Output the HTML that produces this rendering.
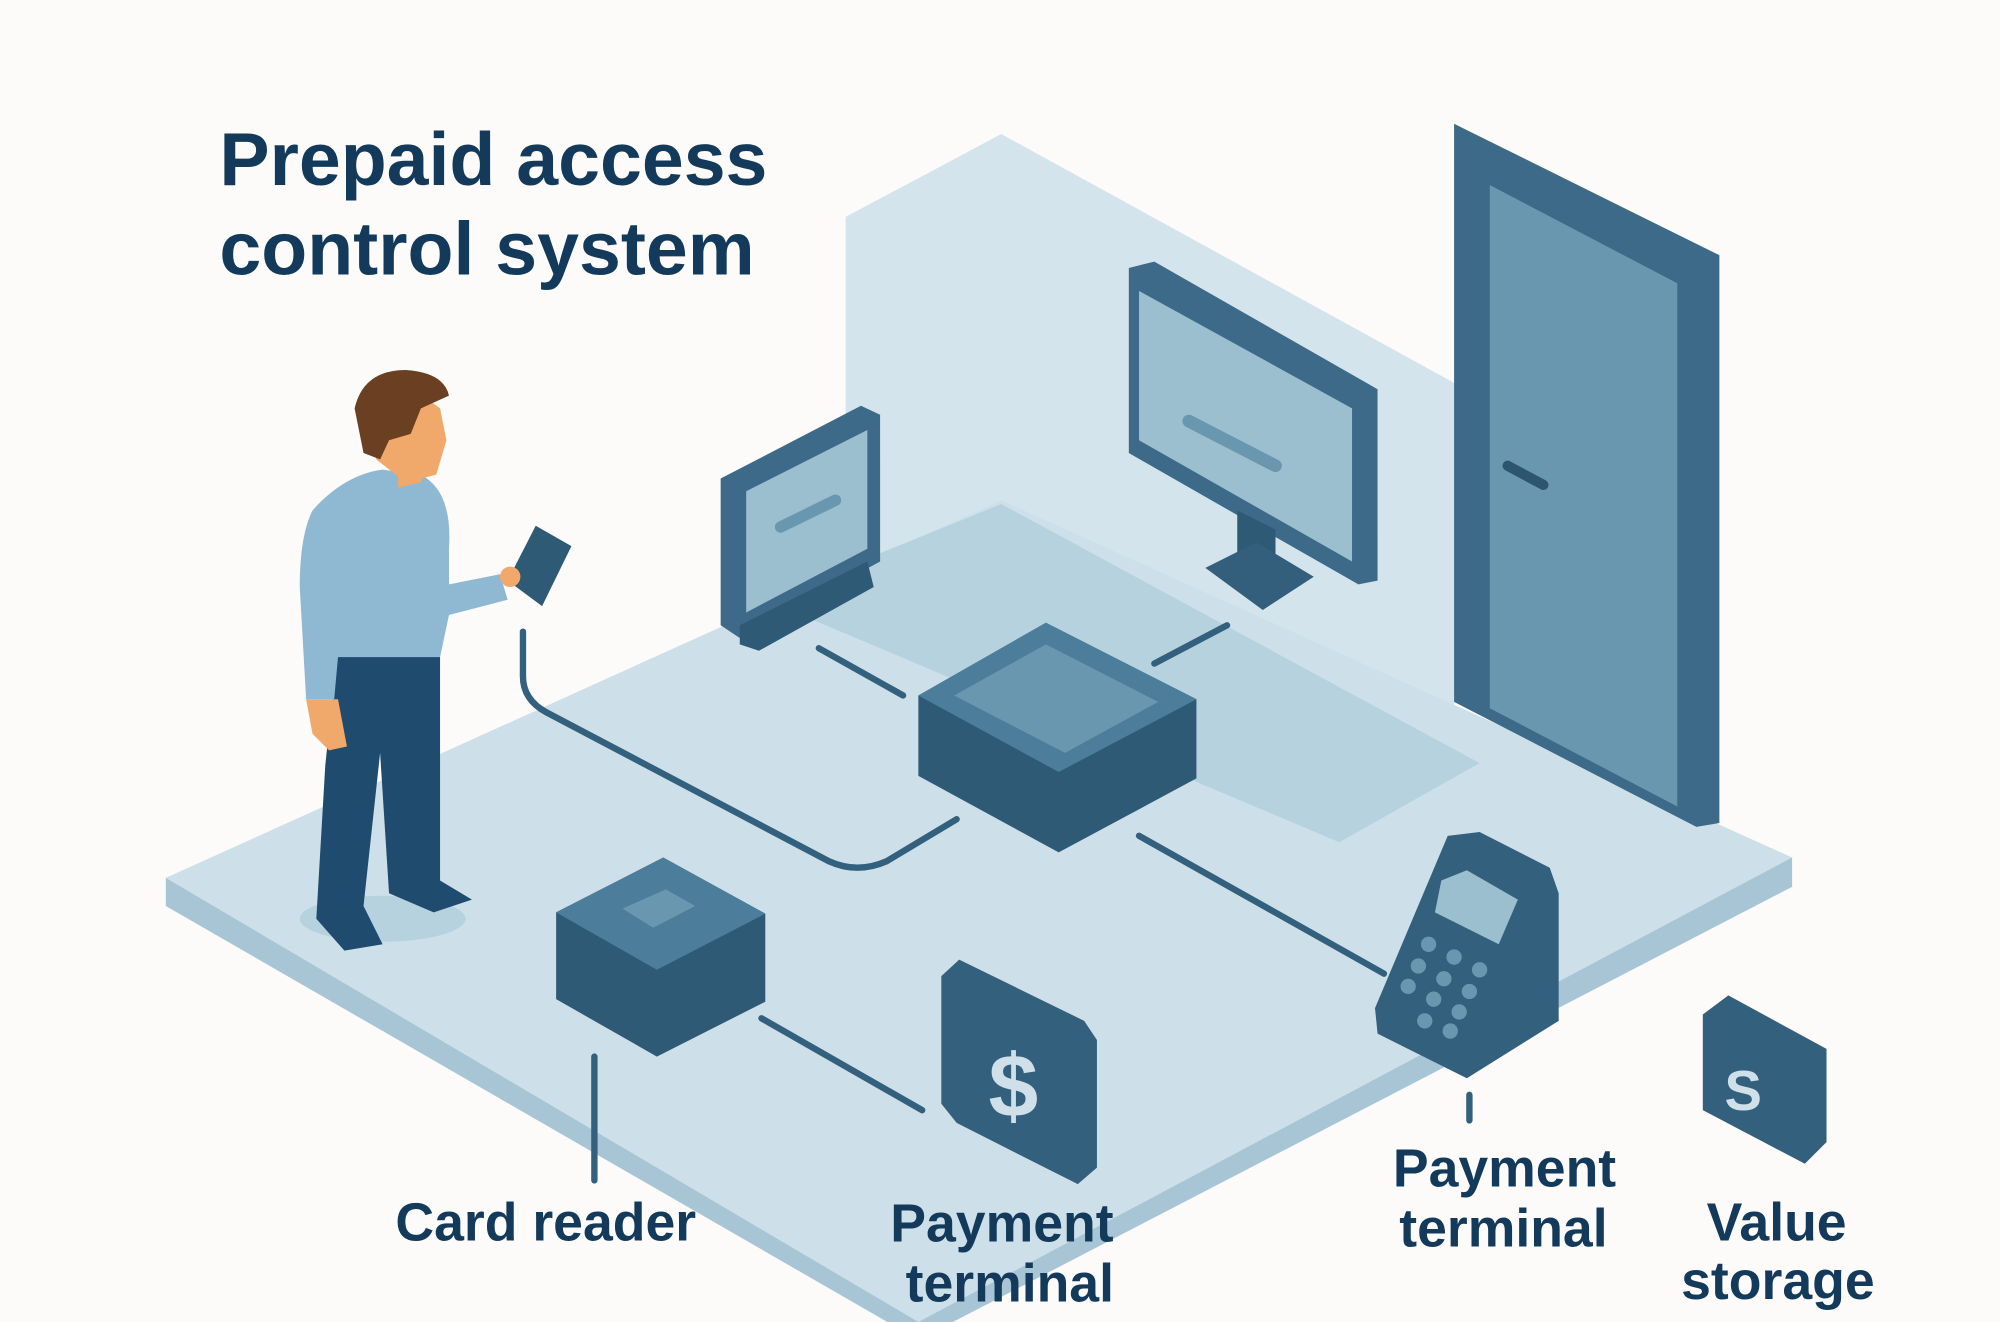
<!DOCTYPE html>
<html><head><meta charset="utf-8"><style>
html,body{margin:0;padding:0;background:#fcfbf9;}
svg{display:block}
text{font-family:"Liberation Sans","DejaVu Sans",sans-serif;fill:#133a5a;font-weight:bold}
</style></head><body>
<svg width="2000" height="1322" viewBox="0 0 1568 1036" preserveAspectRatio="none" xmlns="http://www.w3.org/2000/svg">
<rect width="1568" height="1036" fill="#fcfbf9"/>
<polygon points="663,170 785,105 1140,300 1140,560 663,500" fill="#d4e4ec"/>
<polygon points="130,688 130,710 720,1050 1405,695 1405,672" fill="#a8c5d5"/>
<polygon points="130,688 785,392 1405,672 720,1036" fill="#cde0e9"/>
<polygon points="600,470 785,395 1160,598 1050,660" fill="#b5d2de"/>
<text x="172" y="145" font-size="59">Prepaid access</text>
<text x="172" y="215" font-size="59">control system</text>
<polygon points="1140,97 1348,200 1348,645 1330,648 1140,550" fill="#3c6a88"/>
<polygon points="1168,145 1315,222 1315,632 1168,555" fill="#6a97b0"/>
<line x1="1182" y1="365" x2="1210" y2="380" stroke="#2d5570" stroke-width="8" stroke-linecap="round"/>
<polygon points="885,210 905,205 1080,305 1080,455 1065,458 885,355" fill="#3c6a88"/>
<polygon points="893,228 1060,320 1060,440 893,345" fill="#9bbfcf"/>
<line x1="932" y1="330" x2="1000" y2="365" stroke="#6a97b0" stroke-width="10" stroke-linecap="round"/>
<polygon points="970,400 1000,415 1000,450 970,435" fill="#2f5a76"/>
<polygon points="945,445 985,425 1030,452 990,478" fill="#335f7c"/>
<polygon points="565,375 675,318 690,325 690,440 580,500 565,490" fill="#3c6a88"/>
<polygon points="585,385 680,337 680,430 585,480" fill="#9bbfcf"/>
<line x1="612" y1="413" x2="655" y2="392" stroke="#6a97b0" stroke-width="9" stroke-linecap="round"/>
<polygon points="580,490 680,440 685,460 595,510 580,505" fill="#2f5a76"/>
<g stroke="#33607d" stroke-width="5" fill="none" stroke-linecap="round">
<path d="M410,495 V530 Q410,548 428,558 L650,675 Q672,685 695,675 L750,642"/>
<line x1="642" y1="508" x2="708" y2="545"/>
<line x1="905" y1="520" x2="962" y2="490"/>
<line x1="893" y1="655" x2="1085" y2="763"/>
<line x1="597" y1="798" x2="723" y2="870"/>
<line x1="466" y1="828" x2="466" y2="925"/>
<line x1="1152" y1="858" x2="1152" y2="878"/>
</g>
<polygon points="720,545 820,488 938,548 938,610 830,668 720,608" fill="#2f5a76"/>
<polygon points="720,545 820,488 938,548 830,605" fill="#4c7d9a"/>
<polygon points="748,545 820,505 908,550 835,590" fill="#6a97b0"/>
<polygon points="436,715 520,672 600,716 600,785 515,828 436,783" fill="#2f5a76"/>
<polygon points="436,715 520,672 600,716 515,760" fill="#4c7d9a"/>
<polygon points="488,712 522,697 545,710 512,727" fill="#6a97b0"/>
<polygon points="738,765 752,752 850,800 860,815 860,915 845,928 750,880 738,865" fill="#33607d"/>
<text x="775" y="875" font-size="70" style="fill:#cfe0e9">$</text>
<polygon points="1078,790 1135,655 1160,652 1215,680 1222,700 1222,800 1150,845 1080,810" fill="#33607d"/>
<polygon points="1130,690 1150,682 1190,705 1175,740 1125,715" fill="#9bbfcf"/>
<g fill="#6a97b0">
<circle cx="1120" cy="740" r="6"/><circle cx="1140" cy="750" r="6"/><circle cx="1160" cy="760" r="6"/>
<circle cx="1112" cy="757" r="6"/><circle cx="1132" cy="767" r="6"/><circle cx="1152" cy="777" r="6"/>
<circle cx="1104" cy="773" r="6"/><circle cx="1124" cy="783" r="6"/><circle cx="1144" cy="793" r="6"/>
<circle cx="1117" cy="800" r="6"/><circle cx="1137" cy="808" r="6"/>
</g>
<polygon points="1335,795 1355,780 1432,822 1432,895 1415,912 1335,870" fill="#33607d"/>
<text x="1352" y="870" font-size="44" style="fill:#cfe0e9">S</text>
<ellipse cx="300" cy="720" rx="65" ry="18" fill="#b5d2de"/>
<path d="M265,505 L345,500 L345,690 L370,705 L340,715 L305,700 L298,590 L285,710 L300,740 L270,745 L248,720 L255,600 Z" fill="#1e4b6e"/>
<path d="M245,400 Q270,372 300,368 L330,372 Q355,385 352,430 L352,458 L392,450 L398,470 L352,482 L345,515 L265,515 L262,548 L240,548 L235,460 Q235,420 245,400Z" fill="#8fb8d2"/>
<path d="M240,548 L265,548 L272,585 L258,588 L245,575Z" fill="#f0a96a"/>
<polygon points="312,350 335,350 330,378 312,382" fill="#f0a96a"/>
<path d="M285,320 Q300,300 325,305 L345,320 L350,345 L342,372 L318,378 L295,360Z" fill="#f0a96a"/>
<path d="M278,320 Q285,290 318,290 Q348,292 352,310 L330,320 L322,340 L305,345 L298,360 L285,355Z" fill="#6b3f22"/>
<polygon points="398,455 420,412 448,428 425,475" fill="#2f5a76"/>
<circle cx="400" cy="452" r="8" fill="#f0a96a"/>
<text x="310" y="972" font-size="42">Card reader</text>
<text x="698" y="973" font-size="42">Payment</text>
<text x="710" y="1020" font-size="42">terminal</text>
<text x="1092" y="930" font-size="42">Payment</text>
<text x="1097" y="977" font-size="42">terminal</text>
<text x="1338" y="972" font-size="42">Value</text>
<text x="1318" y="1018" font-size="42">storage</text>
</svg>
</body></html>
